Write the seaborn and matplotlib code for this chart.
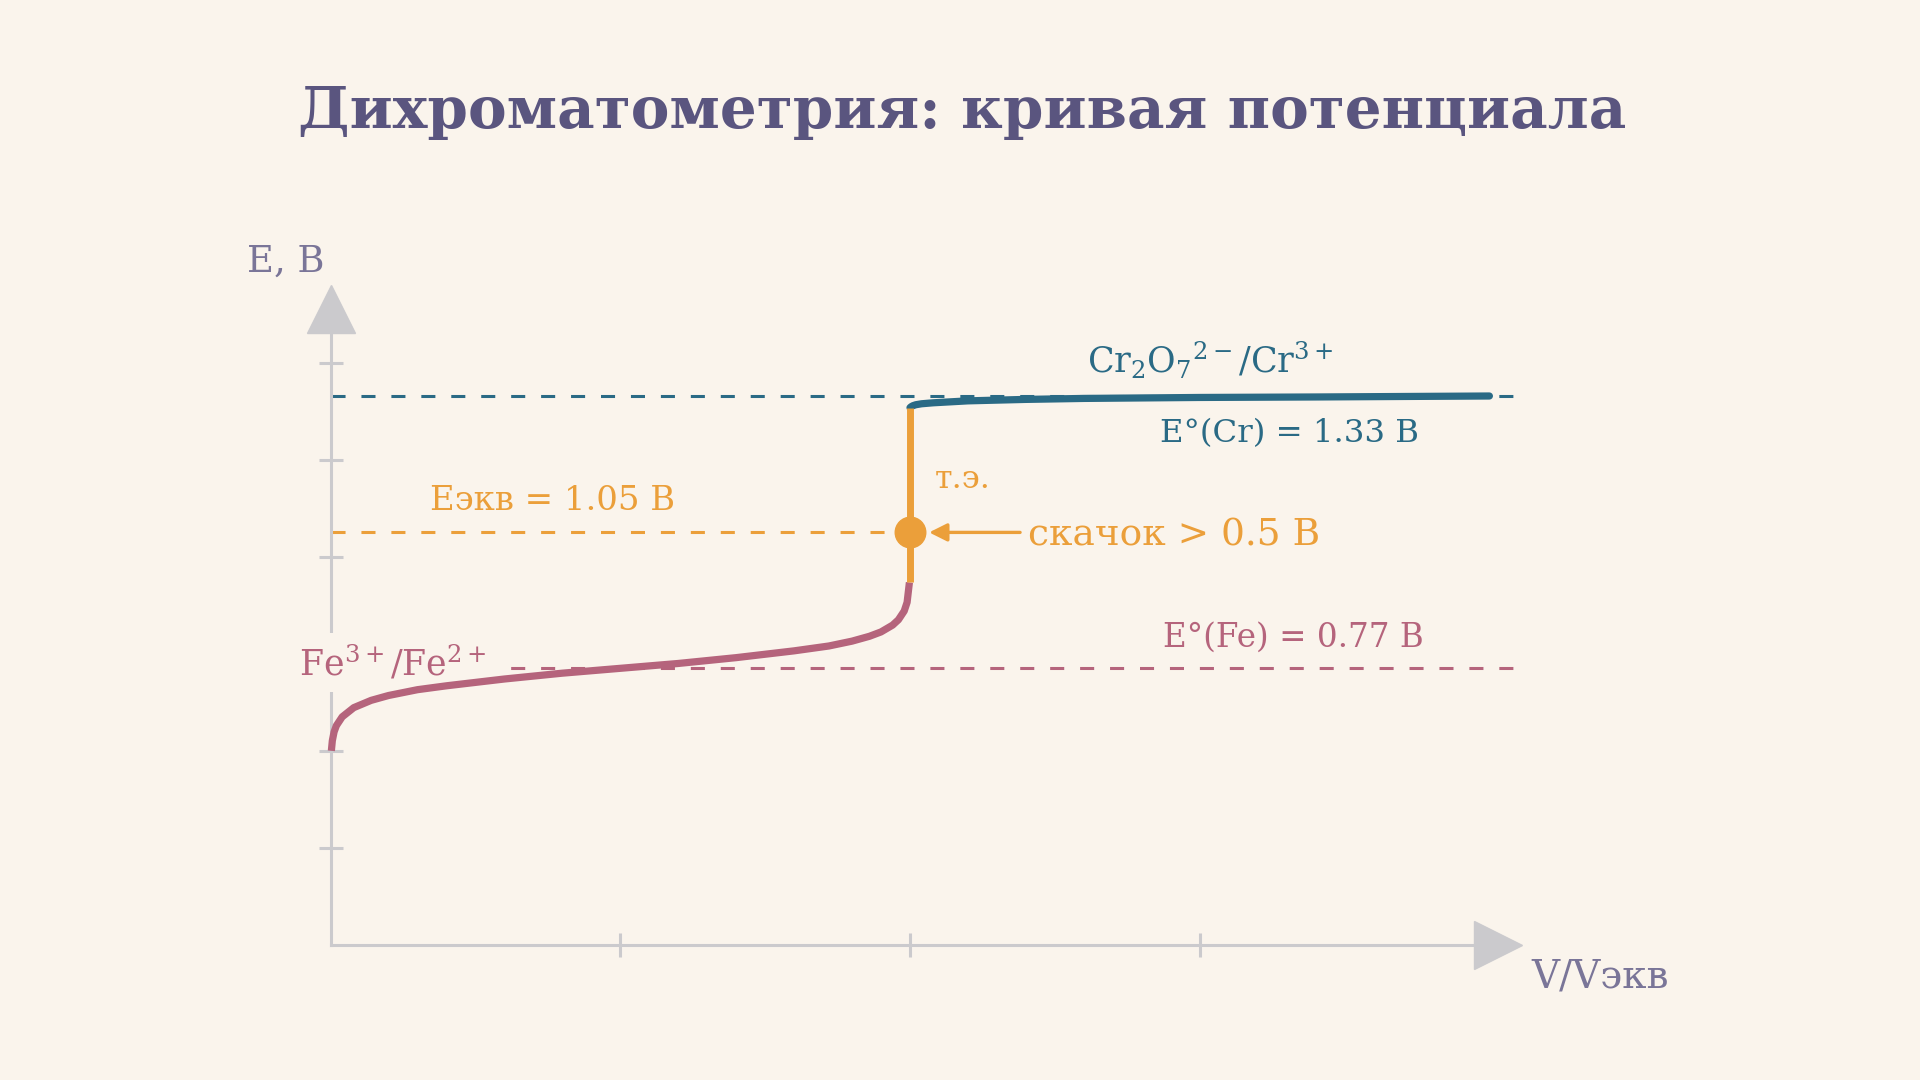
import matplotlib
matplotlib.use("Agg")
import matplotlib.pyplot as plt
import seaborn as sns
import pandas as pd

# titration curve: V/Vэкв -> E, В
fe_v = [0.0013, 0.003, 0.006, 0.01, 0.02, 0.04, 0.07, 0.1, 0.15, 0.2, 0.3, 0.4, 0.5,
        0.6, 0.7, 0.8, 0.86, 0.9, 0.93, 0.95, 0.97, 0.98, 0.99, 0.995, 0.999]
fe_e = [0.600, 0.621, 0.639, 0.652, 0.670, 0.689, 0.704, 0.714, 0.726, 0.734, 0.748, 0.760, 0.770,
        0.780, 0.792, 0.806, 0.816, 0.826, 0.836, 0.845, 0.859, 0.870, 0.888, 0.906, 0.947]
jump_v = [1.0, 1.0]
jump_e = [0.947, 1.307]
cr_v = [1.0, 1.002, 1.005, 1.01, 1.02, 1.04, 1.07, 1.1, 1.2, 1.3, 1.5, 1.7, 2.0]
cr_e = [1.307, 1.309, 1.311, 1.313, 1.315, 1.317, 1.319, 1.321, 1.324, 1.326, 1.328, 1.329, 1.331]

e_cr = 1.33
e_eq = 1.05
e_fe = 0.77
v_eq = 1.0
x_ticks = [0.5, 1.0, 1.5]
y_ticks = [0.4, 0.6, 0.8, 1.0, 1.2, 1.4]
x_end = 2.057
y_end = 1.56

bg = "#FAF4EC"
c_title = "#5A557F"
c_axis_txt = "#7A7598"
c_grey = "#CBCACD"
c_fe = "#B5647C"
c_cr = "#2A6A85"
c_or = "#EB9F3A"

sns.set_theme(style="white")
plt.rcParams["font.family"] = ["DejaVu Serif", "DejaVu Sans"]
plt.rcParams["mathtext.fontset"] = "dejavuserif"

fig = plt.figure(figsize=(19.2, 10.8), dpi=100, facecolor=bg)
ax = fig.add_axes([0, 0, 1, 1])
ax.set_facecolor(bg)
ax.set_xlim(-0.5706, 2.7432)
ax.set_ylim(-0.0781, 2.1468)

# axes drawn as arrows through the origin (0, 0.2)
for s in ["top", "right"]:
    ax.spines[s].set_visible(False)
ax.spines["left"].set_position(("data", 0))
ax.spines["bottom"].set_position(("data", 0.2))
ax.spines["left"].set_bounds(0.2, y_end - 0.1)
ax.spines["bottom"].set_bounds(0, x_end - 0.085)
for s in ["left", "bottom"]:
    ax.spines[s].set_color(c_grey)
    ax.spines[s].set_linewidth(2.2)
ax.set_xticks(x_ticks)
ax.set_yticks(y_ticks)
ax.tick_params(direction="inout", length=17, width=2.2, color=c_grey,
               labelbottom=False, labelleft=False, bottom=True, left=True)
ax.plot([x_end - 0.0425], [0.2], marker=">", ms=35, color=c_grey, clip_on=False)
ax.plot([0], [y_end - 0.05], marker="^", ms=35, color=c_grey, clip_on=False)

dash = (0, (4.6, 5.2))
ax.plot([0, x_end], [e_cr, e_cr], color=c_cr, lw=2.2, ls=dash, zorder=1.6)
ax.plot([0, v_eq], [e_eq, e_eq], color=c_or, lw=2.2, ls=dash, zorder=1.6)
ax.plot([0, x_end], [e_fe, e_fe], color=c_fe, lw=2.2, ls=dash, zorder=1.6)

fe_df = pd.DataFrame({"V": fe_v, "E": fe_e})
cr_df = pd.DataFrame({"V": cr_v, "E": cr_e})
sns.lineplot(data=fe_df, x="V", y="E", ax=ax, color=c_fe, lw=5.2,
             estimator=None, sort=False, zorder=4, solid_capstyle="butt")
sns.lineplot(data=cr_df, x="V", y="E", ax=ax, color=c_cr, lw=5.2,
             estimator=None, sort=False, zorder=4, solid_capstyle="round")
ax.plot(jump_v, jump_e, color=c_or, lw=5, zorder=5, solid_capstyle="butt")
ax.plot([v_eq], [e_eq], marker="o", ms=22, color=c_or, zorder=6)
ax.annotate("", xy=(1.033, e_eq), xytext=(1.19, e_eq),
            arrowprops=dict(arrowstyle="-|>", color=c_or, lw=2.4, mutation_scale=27,
                            shrinkA=0, shrinkB=0), zorder=6)
ax.set_xlabel("")
ax.set_ylabel("")

fig.text(0.501, 0.896, "Дихроматометрия: кривая потенциала", ha="center", va="center",
         fontsize=41.8, fontweight="bold", color=c_title)

ax.text(-0.1443, 1.5871, "E, В", fontsize=26.5, color=c_axis_txt, va="baseline")
ax.text(2.072, 0.1129, "V/Vэкв", fontsize=28, color=c_axis_txt, va="baseline")
ax.text(1.3055, 1.3778, r"Cr$_2$O$_7$$^{2-}$/Cr$^{3+}$", fontsize=25, color=c_cr, va="baseline")
ax.text(1.4315, 1.2369, "E°(Cr) = 1.33 В", fontsize=23.3, color=c_cr, va="baseline")
ax.text(1.0426, 1.1409, "т.э.", fontsize=23, color=c_or, va="baseline")
ax.text(1.2036, 1.0220, "скачок > 0.5 В", fontsize=27, color=c_or, va="baseline")
ax.text(0.1716, 1.0962, "Eэкв = 1.05 В", fontsize=24.4, color=c_or, va="baseline")
ax.text(1.4372, 0.8146, "E°(Fe) = 0.77 В", fontsize=23.5, color=c_fe, va="baseline")
ax.text(-0.0545, 0.7562, r"Fe$^{3+}$/Fe$^{2+}$", fontsize=25, color=c_fe, va="baseline", zorder=3,
        bbox=dict(boxstyle="square,pad=0.3", fc=bg, ec="none"))

fig.savefig("out.png", dpi=100, facecolor=bg)
